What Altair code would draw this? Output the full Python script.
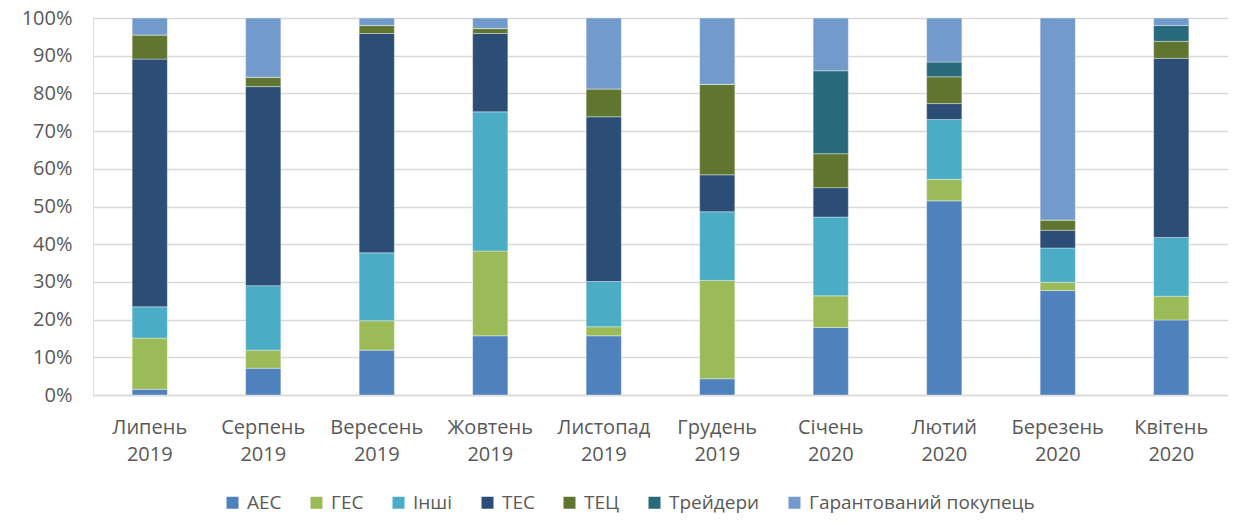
import altair as alt
import pandas as pd

months = ["Липень 2019", "Серпень 2019", "Вересень 2019", "Жовтень 2019", "Листопад 2019",
          "Грудень 2019", "Січень 2020", "Лютий 2020", "Березень 2020", "Квітень 2020"]
sources = ["АЕС", "ГЕС", "Інші", "ТЕС", "ТЕЦ", "Трейдери", "Гарантований покупець"]
colors = ["#4F81BD", "#9BBB59", "#4BACC6", "#2C4D75", "#5F7530", "#276A7C", "#729ACA"]

aes      = [1.5, 7.1, 11.9, 15.7, 15.7, 4.3, 17.9, 51.5, 27.7, 19.9]
ges      = [13.6, 4.8, 7.8, 22.5, 2.4, 26.1, 8.4, 5.7, 2.2, 6.3]
inshi    = [8.3, 17.1, 18.0, 36.9, 12.0, 18.2, 20.9, 15.9, 9.1, 15.6]
tes      = [65.7, 52.8, 58.2, 20.8, 43.7, 9.8, 7.8, 4.2, 4.7, 47.5]
tets     = [6.4, 2.5, 2.1, 1.3, 7.4, 24.0, 9.0, 7.1, 2.7, 4.5]
traders  = [0.0, 0.0, 0.0, 0.0, 0.0, 0.0, 22.0, 3.9, 0.0, 4.2]
gp       = [4.5, 15.7, 2.0, 2.8, 18.8, 17.6, 14.0, 11.7, 53.6, 2.0]

series = [aes, ges, inshi, tes, tets, traders, gp]
rows = []
for si, (name, vals) in enumerate(zip(sources, series)):
    for m, v in zip(months, vals):
        rows.append({"month": m, "source": name, "value": v, "idx": si})
df = pd.DataFrame(rows)

FONT = "Open Sans"
GREY = "#595959"

chart = alt.Chart(df).mark_bar(stroke="#FFFFFF", strokeWidth=0.6, strokeOpacity=0.6).encode(
    x=alt.X("month:N", sort=months,
            scale=alt.Scale(paddingInner=0.69, paddingOuter=0.345),
            axis=alt.Axis(title=None, labelAngle=0, labelExpr="split(datum.label, ' ')",
                          labelFontSize=20, labelColor=GREY, labelFont=FONT, labelPadding=22,
                          labelLineHeight=27, ticks=False, domainColor="#D9D9D9", domainWidth=1.5)),
    y=alt.Y("value:Q", stack="normalize",
            scale=alt.Scale(domain=[0, 1], nice=False),
            axis=alt.Axis(title=None, format=".0%", values=[i / 10 for i in range(11)],
                          labelFontSize=20, labelColor=GREY, labelFont=FONT, labelPadding=21,
                          ticks=False, domain=False, gridColor="#D9D9D9", gridWidth=1.5)),
    color=alt.Color("source:N", sort=sources,
                    scale=alt.Scale(domain=sources, range=colors),
                    legend=alt.Legend(title=None, orient="none", direction="horizontal",
                                      legendX=130, legendY=475, symbolType="square",
                                      symbolSize=144, symbolStrokeWidth=0, labelFontSize=19,
                                      labelFont=FONT, labelColor=GREY, columnPadding=25,
                                      labelOffset=5, labelLimit=400, symbolOffset=0)),
    order=alt.Order("idx:Q", sort="ascending"),
).properties(
    width=1135, height=377,
    autosize=alt.AutoSizeParams(type="none"),
    padding={"left": 85, "top": 10, "right": 0, "bottom": 120},
).configure_view(stroke="transparent", strokeWidth=0).configure(background="white")

chart.save("out.html", embed_options={"renderer": "svg", "actions": False})
